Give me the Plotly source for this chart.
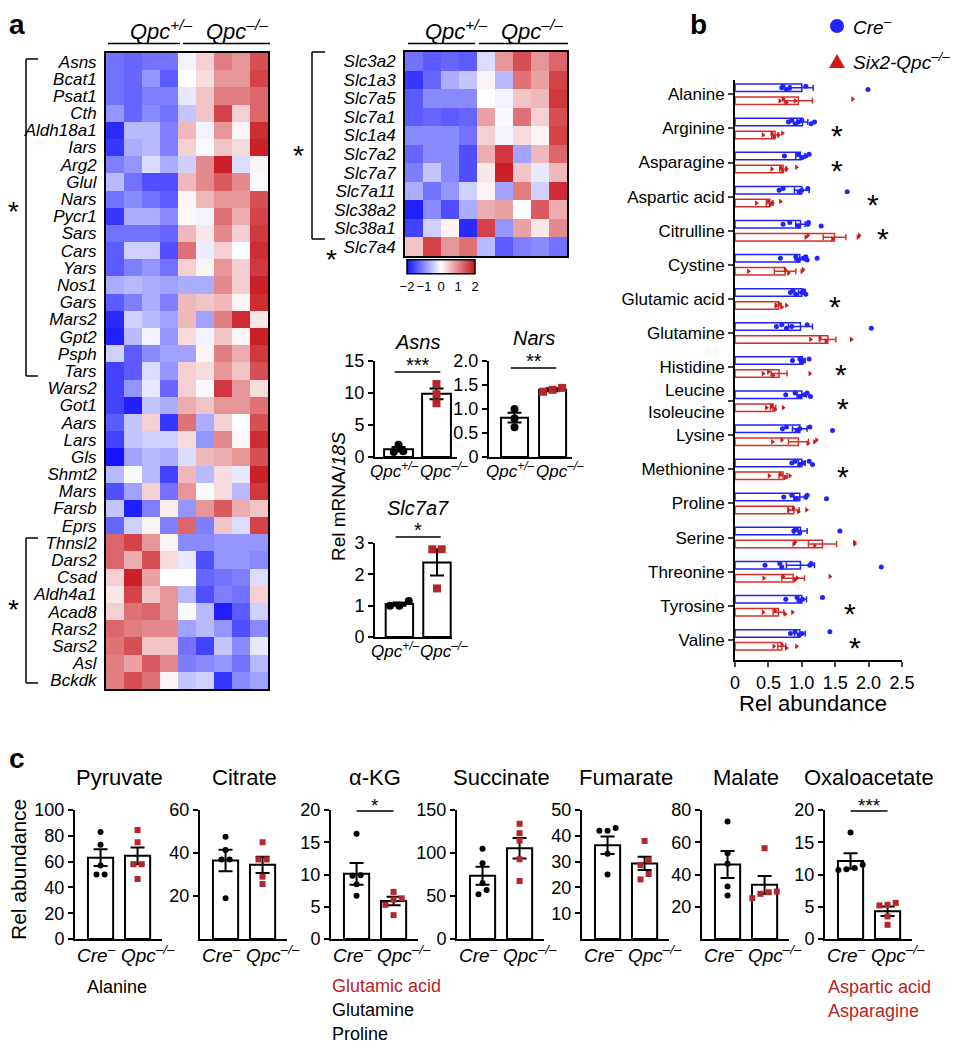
import plotly.graph_objects as go

W, H = 956, 1050
FONT = "Liberation Sans, Arial, Helvetica, sans-serif"
BLUE = "#2222ff"
RED_B = "#d6302a"
PT_RED = "#b3262b"
TXT_RED = "#bb1e24"

# ---------------- DATA ----------------
left_genes = ["Asns", "Bcat1", "Psat1", "Cth", "Aldh18a1", "Iars", "Arg2", "Glul", "Nars", "Pycr1",
              "Sars", "Cars", "Yars", "Nos1", "Gars", "Mars2", "Gpt2", "Psph", "Tars", "Wars2",
              "Got1", "Aars", "Lars", "Gls", "Shmt2", "Mars", "Farsb", "Eprs", "Thnsl2", "Dars2",
              "Csad", "Aldh4a1", "Acad8", "Rars2", "Sars2", "Asl", "Bckdk"]
left_vals = [
    [-1.2, -1.3, -1.2, -1.2, -0.1, 0.4, 1.1, 0.9, 1.5],
    [-1.2, -1.3, -0.9, -1.4, 0.0, 0.3, 0.9, 0.9, 1.6],
    [-1.2, -1.3, -1.1, -1.1, -0.2, 0.5, 1.1, 1.1, 1.3],
    [-0.9, -1.3, -1.0, -1.2, -0.5, 0.5, 1.6, 0.4, 1.3],
    [-1.8, -0.6, -0.6, -1.1, 0.6, -0.1, 0.9, 0.1, 1.8],
    [-1.7, -0.7, -0.6, -1.1, 0.4, -0.05, 0.5, 0.3, 1.9],
    [-1.1, -0.9, -0.3, -0.7, -0.4, 1.0, 1.9, -0.3, 0.1],
    [-0.6, -1.2, -1.5, -1.5, 0.6, 1.0, 1.4, 1.0, -0.05],
    [-1.2, -1.0, -1.2, -1.4, 0.1, 0.6, 0.9, 0.9, 1.5],
    [-1.7, -0.7, -0.7, -1.0, -0.05, -0.1, 1.2, 0.7, 1.6],
    [-1.2, -1.2, -1.2, -1.3, 0.6, 0.2, 1.0, 0.4, 1.7],
    [-1.4, -0.4, -0.4, -1.5, 1.2, -0.15, 0.4, 0.0, 1.8],
    [-1.4, -1.1, -0.9, -1.2, 0.4, 0.1, 0.9, 0.4, 1.7],
    [-0.7, -0.6, -0.7, -0.8, -0.7, -0.7, 1.0, 0.4, 1.9],
    [-1.4, -1.1, -0.7, -1.1, 0.6, 0.5, 0.6, 0.1, 1.8],
    [-1.8, -0.4, -0.6, -0.8, 0.6, -0.8, 1.1, 1.8, 0.2],
    [-1.9, -0.6, -0.1, -0.9, 0.3, -0.1, 0.5, 0.1, 1.9],
    [-0.4, -1.4, -1.0, -0.8, -0.8, 0.1, 1.1, 0.7, 1.7],
    [-1.6, -1.4, -0.3, -0.9, 0.4, 0.3, 0.9, 0.5, 1.5],
    [-1.6, -0.9, -0.2, -1.3, 0.4, -0.05, 1.7, 0.9, 0.3],
    [-1.6, -1.9, -0.5, -0.7, 0.7, 0.5, 0.9, 0.9, 1.2],
    [-1.4, -0.5, 0.4, -1.7, 1.2, -0.7, 0.4, 0.0, 1.5],
    [-1.6, -0.5, -0.4, -0.4, 0.3, -0.9, 1.0, 0.05, 1.8],
    [-2.0, -0.8, -0.6, -0.7, -0.3, 0.6, 0.7, 0.9, 1.5],
    [-0.6, -0.05, -0.6, -1.6, 0.6, -0.6, 0.3, -0.2, 1.9],
    [-1.5, -0.8, 0.4, -1.2, 0.9, -0.05, 0.3, -0.6, 1.7],
    [-0.5, -1.9, -1.1, 0.15, -0.9, 0.9, 1.4, 0.7, 0.5],
    [-1.3, -0.4, 0.1, -1.1, 1.3, -1.1, 0.5, -0.3, 1.6],
    [1.3, 1.6, 0.9, 0.1, -1.0, -1.0, -0.9, -0.9, -0.9],
    [1.3, 0.7, 1.5, 0.3, -0.2, -1.5, -0.9, -0.9, -1.0],
    [0.4, 1.9, 0.8, 0.0, 0.0, -1.3, -1.2, -1.1, -0.3],
    [0.2, 1.6, 0.5, 0.9, -0.6, -1.5, -1.1, -1.2, 0.4],
    [0.4, 1.2, 1.3, 0.9, -0.05, -0.6, -1.9, -1.4, -0.4],
    [1.3, 1.1, 1.0, 1.0, -0.8, -0.6, -0.9, -1.5, -1.0],
    [1.2, 1.5, 0.5, 0.5, -1.2, -1.6, -0.5, -1.0, -0.2],
    [1.1, 0.8, 1.4, 1.0, -1.1, -1.0, -0.9, -1.2, -0.6],
    [1.1, 1.5, 1.2, 0.1, -0.5, -0.4, -1.7, -1.0, -0.8],
]
right_genes = ["Slc3a2", "Slc1a3", "Slc7a5", "Slc7a1", "Slc1a4", "Slc7a2", "Slc7a7",
               "Slc7a11", "Slc38a2", "Slc38a1", "Slc7a4"]
right_vals = [
    [-1.2, -1.4, -1.3, -1.4, -0.3, 0.9, 1.5, 0.9, 1.3],
    [-1.7, -1.3, -0.7, -0.5, 0.1, -0.6, 1.2, 0.8, 1.6],
    [-1.4, -1.0, -1.0, -1.0, 0.0, -0.1, 0.5, 0.6, 1.7],
    [-1.4, -1.3, -1.4, -1.3, 0.8, -0.05, 1.2, 0.4, 1.5],
    [-1.0, -1.0, -1.0, -1.2, 0.4, -0.1, 0.3, 0.1, 1.6],
    [-1.3, -1.0, -1.0, -1.5, 0.7, 1.7, -0.8, 0.6, 1.3],
    [-1.1, -0.5, -1.0, -1.5, 0.2, 1.9, 0.5, -0.2, 0.6],
    [-0.7, -1.2, -0.9, -0.4, 0.1, -0.8, 1.1, -0.4, 1.8],
    [-1.9, -1.0, -1.5, -0.7, 0.7, 0.8, 0.0, 1.4, 0.7],
    [-1.6, -0.4, 0.1, -1.8, 1.6, -0.9, 0.8, 0.2, 1.0],
    [0.5, 1.6, 0.9, 1.2, -0.6, -1.4, -1.1, -1.0, -1.2],
]
cbar_ticks = [-2, -1, 0, 1, 2]

# qPCR panels (panel a)
qpcr_names = ["Asns", "Nars", "Slc7a7"]
qpcr_stars = ["***", "**", "*"]
qpcr_groups = ["<i>Qpc<sup>+/–</sup></i>", "<i>Qpc<sup>–/–</sup></i>"]
qpcr_mean = [[1.2, 9.87], [0.82, 1.40], [1.05, 2.38]]
qpcr_sem = [[0.35, 0.85], [0.10, 0.03], [0.05, 0.42]]
qpcr_het_pts = [[1.9, 0.8, 0.9], [1.0, 0.8, 0.62], [1.15, 1.0, 1.0]]
qpcr_ko_pts = [[11.4, 9.8, 8.4], [1.36, 1.40, 1.44], [2.8, 2.8, 1.55]]
qpcr_ymax = [15, 2, 3]
qpcr_ticks = [[0, 5, 10, 15], [0, 0.5, 1.0, 1.5, 2.0], [0, 1, 2, 3]]
qpcr_ticktext = [["0", "5", "10", "15"], ["0", "0.5", "1.0", "1.5", "2.0"], ["0", "1", "2", "3"]]

# panel b
amino = ["Alanine", "Arginine", "Asparagine", "Aspartic acid", "Citrulline", "Cystine",
         "Glutamic acid", "Glutamine", "Histidine", "Leucine<br>Isoleucine", "Lysine",
         "Methionine", "Proline", "Serine", "Threonine", "Tyrosine", "Valine"]
cre_mean = [1.00, 1.01, 0.98, 1.00, 0.98, 0.97, 1.00, 0.98, 1.01, 1.00, 0.97, 1.00, 0.97, 0.98, 0.98, 1.00, 0.97]
cre_sem = [0.17, 0.08, 0.07, 0.11, 0.07, 0.07, 0.05, 0.18, 0.04, 0.07, 0.11, 0.05, 0.09, 0.10, 0.21, 0.07, 0.08]
ko_mean = [0.95, 0.60, 0.72, 0.52, 1.49, 0.75, 0.65, 1.39, 0.66, 0.57, 0.95, 0.72, 0.88, 1.31, 0.87, 0.65, 0.70]
ko_sem = [0.21, 0.05, 0.05, 0.05, 0.17, 0.16, 0.04, 0.12, 0.12, 0.04, 0.15, 0.06, 0.08, 0.21, 0.17, 0.08, 0.06]
cre_pts = [
    [0.70, 0.72, 0.77, 0.82, 1.06, 1.99],
    [0.80, 0.85, 0.90, 0.95, 1.00, 1.14, 1.19],
    [0.74, 0.95, 1.00, 1.06, 1.11],
    [0.66, 0.72, 0.96, 1.00, 1.09, 1.68],
    [0.72, 0.82, 0.95, 1.09, 1.10, 1.29],
    [0.68, 0.91, 0.95, 1.02, 1.06, 1.08, 1.23],
    [0.83, 0.87, 0.91, 1.00, 1.03, 1.06],
    [0.62, 0.70, 0.77, 0.85, 1.08, 2.04],
    [0.86, 0.97, 1.00, 1.02, 1.11],
    [0.76, 0.90, 0.97, 1.04, 1.08, 1.13],
    [0.71, 0.77, 0.93, 0.97, 1.12, 1.46],
    [0.85, 0.90, 0.97, 1.02, 1.11, 1.16],
    [0.73, 0.85, 0.92, 1.06, 1.08, 1.37],
    [0.88, 0.92, 0.97, 1.57],
    [0.45, 0.67, 0.70, 1.12, 1.14, 2.19],
    [0.76, 0.93, 0.97, 1.01, 1.31],
    [0.83, 0.90, 0.96, 1.00, 1.42],
]
ko_pts = [
    [0.67, 0.72, 0.77, 0.90, 1.76],
    [0.42, 0.55, 0.58, 0.65, 0.71],
    [0.55, 0.68, 0.71, 0.77, 0.92],
    [0.32, 0.50, 0.53, 0.56, 0.68],
    [1.06, 1.09, 1.46, 1.84, 1.86],
    [0.20, 0.75, 0.80, 1.00, 1.02],
    [0.61, 0.66, 0.70, 0.77],
    [1.13, 1.27, 1.36, 1.74],
    [0.42, 0.50, 0.57, 1.12],
    [0.47, 0.55, 0.60, 0.72],
    [0.56, 0.70, 1.09, 1.19, 1.22],
    [0.51, 0.68, 0.75, 0.82],
    [0.80, 0.87, 0.95, 1.07],
    [0.88, 0.90, 1.19, 1.79, 1.79],
    [0.43, 0.72, 0.90, 0.93, 1.42],
    [0.42, 0.60, 0.75, 0.86],
    [0.58, 0.70, 0.77, 0.92],
]
b_star_cats = ["Arginine", "Asparagine", "Aspartic acid", "Citrulline", "Glutamic acid",
               "Histidine", "Leucine<br>Isoleucine", "Methionine", "Tyrosine", "Valine"]
b_star_x = [1.52, 1.52, 2.06, 2.21, 1.49, 1.58, 1.62, 1.61, 1.72, 1.79]
b_xticks = [0, 0.5, 1.0, 1.5, 2.0, 2.5]
b_xticktext = ["0", "0.5", "1.0", "1.5", "2.0", "2.5"]

# panel c
c_titles = ["Pyruvate", "Citrate", "α-KG", "Succinate", "Fumarate", "Malate", "Oxaloacetate"]
c_groups = ["<i>Cre<sup>–</sup></i>", "<i>Qpc<sup>–/–</sup></i>"]
c_ymax = [100, 60, 20, 150, 50, 80, 20]
c_ticks = [[0, 20, 40, 60, 80, 100], [20, 40, 60], [0, 5, 10, 15, 20], [0, 50, 100, 150],
           [10, 20, 30, 40, 50], [20, 40, 60, 80], [0, 5, 10, 15, 20]]
c_cre_mean = [63.0, 36.5, 10.1, 73.5, 36.3, 46.2, 12.1]
c_cre_sem = [6.5, 5.0, 1.7, 10.5, 3.4, 8.3, 1.2]
c_ko_mean = [64.5, 34.5, 5.9, 105.5, 29.3, 33.6, 4.3]
c_ko_sem = [6.5, 3.8, 0.65, 12.0, 2.6, 5.5, 0.75]
c_cre_pts = [[83, 73, 57, 50, 50], [47.6, 41.4, 37, 37, 18.9], [16.3, 9.9, 9.8, 8.5, 6.7],
             [105, 88, 65, 57, 52], [43, 42, 42, 33, 25], [72.9, 53.2, 46.6, 32.5, 26.9],
             [16.5, 11.5, 11.0, 10.8, 10.7]]
c_ko_pts = [[84.5, 75, 58, 58, 46.5], [45, 37, 37, 29, 25.6], [7.3, 6.3, 6.1, 5.3, 3.7],
            [134, 123, 114.5, 92.7, 67.5], [38, 30.6, 28.7, 25.2, 23.1], [56.3, 29.4, 29, 28, 25.3],
            [5.6, 5.3, 5.2, 3.5, 2.2]]
c_sig = {"α-KG": "*", "Oxaloacetate": "***"}

# ---------------- HELPERS ----------------
fig = go.Figure()
shapes, annos = [], []
layout = dict(width=W, height=H, template="none",
              margin=dict(l=0, r=0, t=0, b=0, autoexpand=False),
              paper_bgcolor="white", plot_bgcolor="white", showlegend=False,
              barmode="overlay", font=dict(family=FONT, color="black", size=16))


def X(p):
    return p / W


def Y(p):
    return 1 - p / H


def refs(k):
    return ("x" if k == 1 else f"x{k}", "y" if k == 1 else f"y{k}")


def set_axes(k, x0, x1, top, bot, xa, ya):
    xn = "xaxis" if k == 1 else f"xaxis{k}"
    yn = "yaxis" if k == 1 else f"yaxis{k}"
    xr, yr = refs(k)
    layout[xn] = dict(domain=[X(x0), X(x1)], anchor=yr, showgrid=False, zeroline=False, **xa)
    layout[yn] = dict(domain=[Y(bot), Y(top)], anchor=xr, showgrid=False, zeroline=False, **ya)


def line_px(x0, y0, x1, y1, w=1.5, color="black"):
    shapes.append(dict(type="line", xref="paper", yref="paper", x0=X(x0), y0=Y(y0),
                       x1=X(x1), y1=Y(y1), line=dict(color=color, width=w)))


def text_px(x, y, t, size, xanchor="center", color="black", angle=0):
    annos.append(dict(xref="paper", yref="paper", x=X(x), y=Y(y), text=t, showarrow=False,
                      xanchor=xanchor, yanchor="middle", textangle=angle,
                      font=dict(size=size, color=color, family=FONT)))


def star_px(x, yc, t, size):
    text_px(x, yc + 0.17 * size, t, size)


def swarm(vals, ppu, min_px=6.0, step=0.2):
    order = sorted(range(len(vals)), key=lambda i: vals[i])
    offs = [0.0] * len(vals)
    groups, cur = [], [order[0]]
    for i in order[1:]:
        if (vals[i] - vals[cur[-1]]) * ppu < min_px:
            cur.append(i)
        else:
            groups.append(cur)
            cur = [i]
    groups.append(cur)
    for gr in groups:
        n = len(gr)
        for j, i in enumerate(gr):
            offs[i] = (j - (n - 1) / 2) * step
    return offs


def bar_panel(k, x0, x1, top, bot, ymax, tv, tt, means, sems, pts, labels, xr, bw,
              colors, symbols, msize, tick_size, label_size, step, lab_y, lab_off):
    xref, yref = refs(k)
    fig.add_trace(go.Bar(x=[0, 1], y=means, width=bw, xaxis=xref, yaxis=yref,
                         marker=dict(color="white", line=dict(color="black", width=2)),
                         error_y=dict(type="data", array=sems, color="black", thickness=2, width=7)))
    ppu = (bot - top) / ymax
    for g in range(2):
        offs = swarm(pts[g], ppu, step=step)
        fig.add_trace(go.Scatter(x=[g + o for o in offs], y=pts[g], mode="markers",
                                 xaxis=xref, yaxis=yref,
                                 marker=dict(color=colors[g], symbol=symbols[g], size=msize,
                                             line=dict(width=0))))
    set_axes(k, x0, x1, top, bot,
             xa=dict(range=xr, showticklabels=False, ticks="",
                     showline=True, linecolor="black", linewidth=2),
             ya=dict(range=[0, ymax], tickvals=tv, ticktext=tt, ticks="outside", ticklen=5,
                     tickwidth=2, tickcolor="black", showline=True, linewidth=2,
                     linecolor="black", tickfont=dict(size=tick_size)))
    for g in range(2):
        annos.append(dict(xref=xref, yref="paper", x=g + lab_off[g], y=Y(lab_y),
                          text=labels[g], showarrow=False, xanchor="center", yanchor="middle",
                          font=dict(size=label_size, family=FONT)))


# ---------------- PANEL a: heatmaps ----------------
cscale = [[0, "#1414ff"], [0.5, "#ffffff"], [1, "#c8141c"]]
layout["coloraxis"] = dict(cmin=-2, cmax=2, colorscale=cscale,
                           colorbar=dict(orientation="h", x=X(441), xanchor="center",
                                         y=Y(275), yanchor="middle", len=68 / W,
                                         lenmode="fraction", thickness=14, xpad=0, ypad=0,
                                         outlinecolor="black", outlinewidth=1.5,
                                         tickvals=cbar_ticks, ticks="", tickangle=0,
                                         tickfont=dict(size=13, family=FONT)))

for k, genes, vals, x0, x1, top, bot in [(1, left_genes, left_vals, 106, 268, 53, 689),
                                         (2, right_genes, right_vals, 405, 567, 52, 256)]:
    xref, yref = refs(k)
    n = len(genes)
    fig.add_trace(go.Heatmap(z=vals, x=list(range(9)), y=list(range(n)), coloraxis="coloraxis",
                             xaxis=xref, yaxis=yref, xgap=0, ygap=0))
    set_axes(k, x0, x1, top, bot,
             xa=dict(range=[-0.5, 8.5], showticklabels=False, ticks="", showline=True,
                     mirror=True, linecolor="black", linewidth=2),
             ya=dict(range=[n - 0.5, -0.5], tickvals=list(range(n)),
                     ticktext=[f"<i>{g}</i>" for g in genes], ticks="", showline=True,
                     mirror=True, linecolor="black", linewidth=2, ticklabelstandoff=4,
                     tickfont=dict(size=17)))

# headers
het_hdr = "<i>Qpc<sup>+/–</sup></i>"
ko_hdr = "<i>Qpc<sup>–/–</sup></i>"
for cx_het, cx_ko, u in [(161, 237, (108, 180, 183, 270)), (456, 532, (408, 475, 479, 568))]:
    text_px(cx_het, 30, het_hdr, 22)
    text_px(cx_ko, 30, ko_hdr, 22)
    line_px(u[0], 43.5, u[1], 43.5, 1.5)
    line_px(u[2], 43.5, u[3], 43.5, 1.5)

# brackets
for xb, xt, t0, t1 in [(26, 38, 59, 376), (26, 38, 538, 683), (312, 325, 52, 239)]:
    line_px(xb, t0, xb, t1, 1.5)
    line_px(xb, t0, xt, t0, 1.5)
    line_px(xb, t1, xt, t1, 1.5)
star_px(13, 207, "*", 28)
star_px(13, 605, "*", 28)
star_px(298, 151, "*", 28)
star_px(331, 255, "*", 28)

text_px(17, 24, "<b>a</b>", 28)
text_px(698, 24, "<b>b</b>", 28)
text_px(17, 758, "<b>c</b>", 28)

# qPCR bar charts
qpcr_geom = [(3, 375, 457, 361, 457, [-0.62, 1.54], 0.76, 342, 372, 470),
             (4, 489, 572, 361, 457, [-0.67, 1.51], 0.71, 338, 368, 470),
             (5, 375, 452, 543, 637, [-0.65, 1.40], 0.73, 508, 537, 650)]
for i, (k, x0, x1, top, bot, xr, bw, ty, sig_y, lab_y) in enumerate(qpcr_geom):
    bar_panel(k, x0, x1, top, bot, qpcr_ymax[i], qpcr_ticks[i], qpcr_ticktext[i],
              qpcr_mean[i], qpcr_sem[i], [qpcr_het_pts[i], qpcr_ko_pts[i]], qpcr_groups,
              xr, bw, ["black", PT_RED], ["circle", "square"], 8, 18, 17, 0.25,
              lab_y, [-0.13, 0.2])
    xref, yref = refs(k)
    annos.append(dict(xref=xref, yref="paper", x=0.5, y=Y(ty), text=f"<i>{qpcr_names[i]}</i>",
                      showarrow=False, font=dict(size=20, family=FONT), yanchor="middle"))
    shapes.append(dict(type="line", xref=xref, yref="paper", x0=-0.1, x1=1.1,
                       y0=Y(sig_y), y1=Y(sig_y), line=dict(color="black", width=1.5)))
    annos.append(dict(xref=xref, yref="paper", x=0.5, y=Y(sig_y - 10 + 0.17 * 20),
                      text=qpcr_stars[i], showarrow=False, yanchor="middle",
                      font=dict(size=20, family=FONT)))
text_px(338, 497, "Rel mRNA/<i>18S</i>", 19, angle=-90)

# ---------------- PANEL b ----------------
kb = 6
xb_ref, yb_ref = refs(kb)
off = 0.19
ypos = list(range(len(amino)))
fig.add_trace(go.Bar(x=cre_mean, y=[p - off for p in ypos], orientation="h", width=0.22,
                     xaxis=xb_ref, yaxis=yb_ref,
                     marker=dict(color="white", line=dict(color=BLUE, width=1.5)),
                     error_x=dict(type="data", array=cre_sem, color=BLUE, thickness=1.5, width=3)))
fig.add_trace(go.Bar(x=ko_mean, y=[p + off for p in ypos], orientation="h", width=0.22,
                     xaxis=xb_ref, yaxis=yb_ref,
                     marker=dict(color="white", line=dict(color=RED_B, width=1.5)),
                     error_x=dict(type="data", array=ko_sem, color=RED_B, thickness=1.5, width=3)))
jit = [0.0, -0.05, 0.05]
bx, by, rx, ry = [], [], [], []
for i in ypos:
    for j, v in enumerate(cre_pts[i]):
        bx.append(v)
        by.append(i - off + jit[j % 3])
    for j, v in enumerate(ko_pts[i]):
        rx.append(v)
        ry.append(i + off + jit[j % 3])
fig.add_trace(go.Scatter(x=bx, y=by, mode="markers", xaxis=xb_ref, yaxis=yb_ref,
                         marker=dict(color=BLUE, size=5, symbol="circle", line=dict(width=0))))
fig.add_trace(go.Scatter(x=rx, y=ry, mode="markers", xaxis=xb_ref, yaxis=yb_ref,
                         marker=dict(color="#d01818", size=5, symbol="triangle-right",
                                     line=dict(width=0))))
set_axes(kb, 735, 902, 80, 660,
         xa=dict(range=[0, 2.5], tickvals=b_xticks, ticktext=b_xticktext, ticks="outside",
                 ticklen=5, tickwidth=2, showline=True, linecolor="black", linewidth=2,
                 tickfont=dict(size=18)),
         ya=dict(range=[16.59, -0.42], tickvals=ypos, ticktext=amino, ticks="outside",
                 ticklen=5, tickwidth=1.5, showline=True, linecolor="black", linewidth=2,
                 tickfont=dict(size=17)))
for cat, sx in zip(b_star_cats, b_star_x):
    i = amino.index(cat)
    annos.append(dict(xref=xb_ref, yref=yb_ref, x=sx, y=i, text="*", showarrow=False,
                      yanchor="middle", yshift=-7.5, font=dict(size=30, family=FONT)))
text_px(813, 703, "Rel abundance", 22)
# legend
shapes.append(dict(type="circle", xref="paper", yref="paper", x0=X(830), x1=X(844),
                   y0=Y(33), y1=Y(19), fillcolor=BLUE, line=dict(width=0)))
shapes.append(dict(type="path", xref="paper", yref="paper",
                   path=f"M {X(829)},{Y(68)} L {X(845)},{Y(68)} L {X(837)},{Y(54)} Z",
                   fillcolor="#d01818", line=dict(width=0)))
text_px(851, 26, "<i>Cre<sup>–</sup></i>", 19, xanchor="left")
text_px(851, 61, "<i>Six2-Qpc<sup>–/–</sup></i>", 19, xanchor="left")

# ---------------- PANEL c ----------------
c_left = [75, 200, 331, 457, 582, 702, 825]
for i, t in enumerate(c_titles):
    k = 7 + i
    x0 = c_left[i]
    bar_panel(k, x0, x0 + 87, 810, 939, c_ymax[i], c_ticks[i], [str(v) for v in c_ticks[i]],
              [c_cre_mean[i], c_ko_mean[i]], [c_cre_sem[i], c_ko_sem[i]],
              [c_cre_pts[i], c_ko_pts[i]], c_groups, [-0.69, 1.66], 0.68,
              ["black", PT_RED], ["circle", "square"], 6, 18, 19, 0.22,
              954, [-0.1, 0.27])
    xref, yref = refs(k)
    annos.append(dict(xref=xref, yref="paper", x=0.5, y=Y(777), text=t, showarrow=False,
                      yanchor="middle", font=dict(size=22, family=FONT)))
    if t in c_sig:
        shapes.append(dict(type="line", xref=xref, yref="paper", x0=0, x1=1,
                           y0=Y(811), y1=Y(811), line=dict(color="black", width=1.5)))
        annos.append(dict(xref=xref, yref="paper", x=0.5, y=Y(802 + 0.17 * 19),
                          text=c_sig[t], showarrow=False, yanchor="middle",
                          font=dict(size=19, family=FONT)))
text_px(18, 870, "Rel abundance", 21, angle=-90)
text_px(117, 987, "Alanine", 18)
text_px(330, 986, "Glutamic acid", 18, xanchor="left", color=TXT_RED)
text_px(330, 1010, "Glutamine", 18, xanchor="left")
text_px(330, 1034, "Proline", 18, xanchor="left")
text_px(826, 987, "Aspartic acid", 18, xanchor="left", color=TXT_RED)
text_px(826, 1011, "Asparagine", 18, xanchor="left", color=TXT_RED)

layout["shapes"] = shapes
layout["annotations"] = annos
fig.update_layout(**layout)
fig.write_html("out.html", config={"displayModeBar": False},
               post_script="document.body.style.margin='0px';")
